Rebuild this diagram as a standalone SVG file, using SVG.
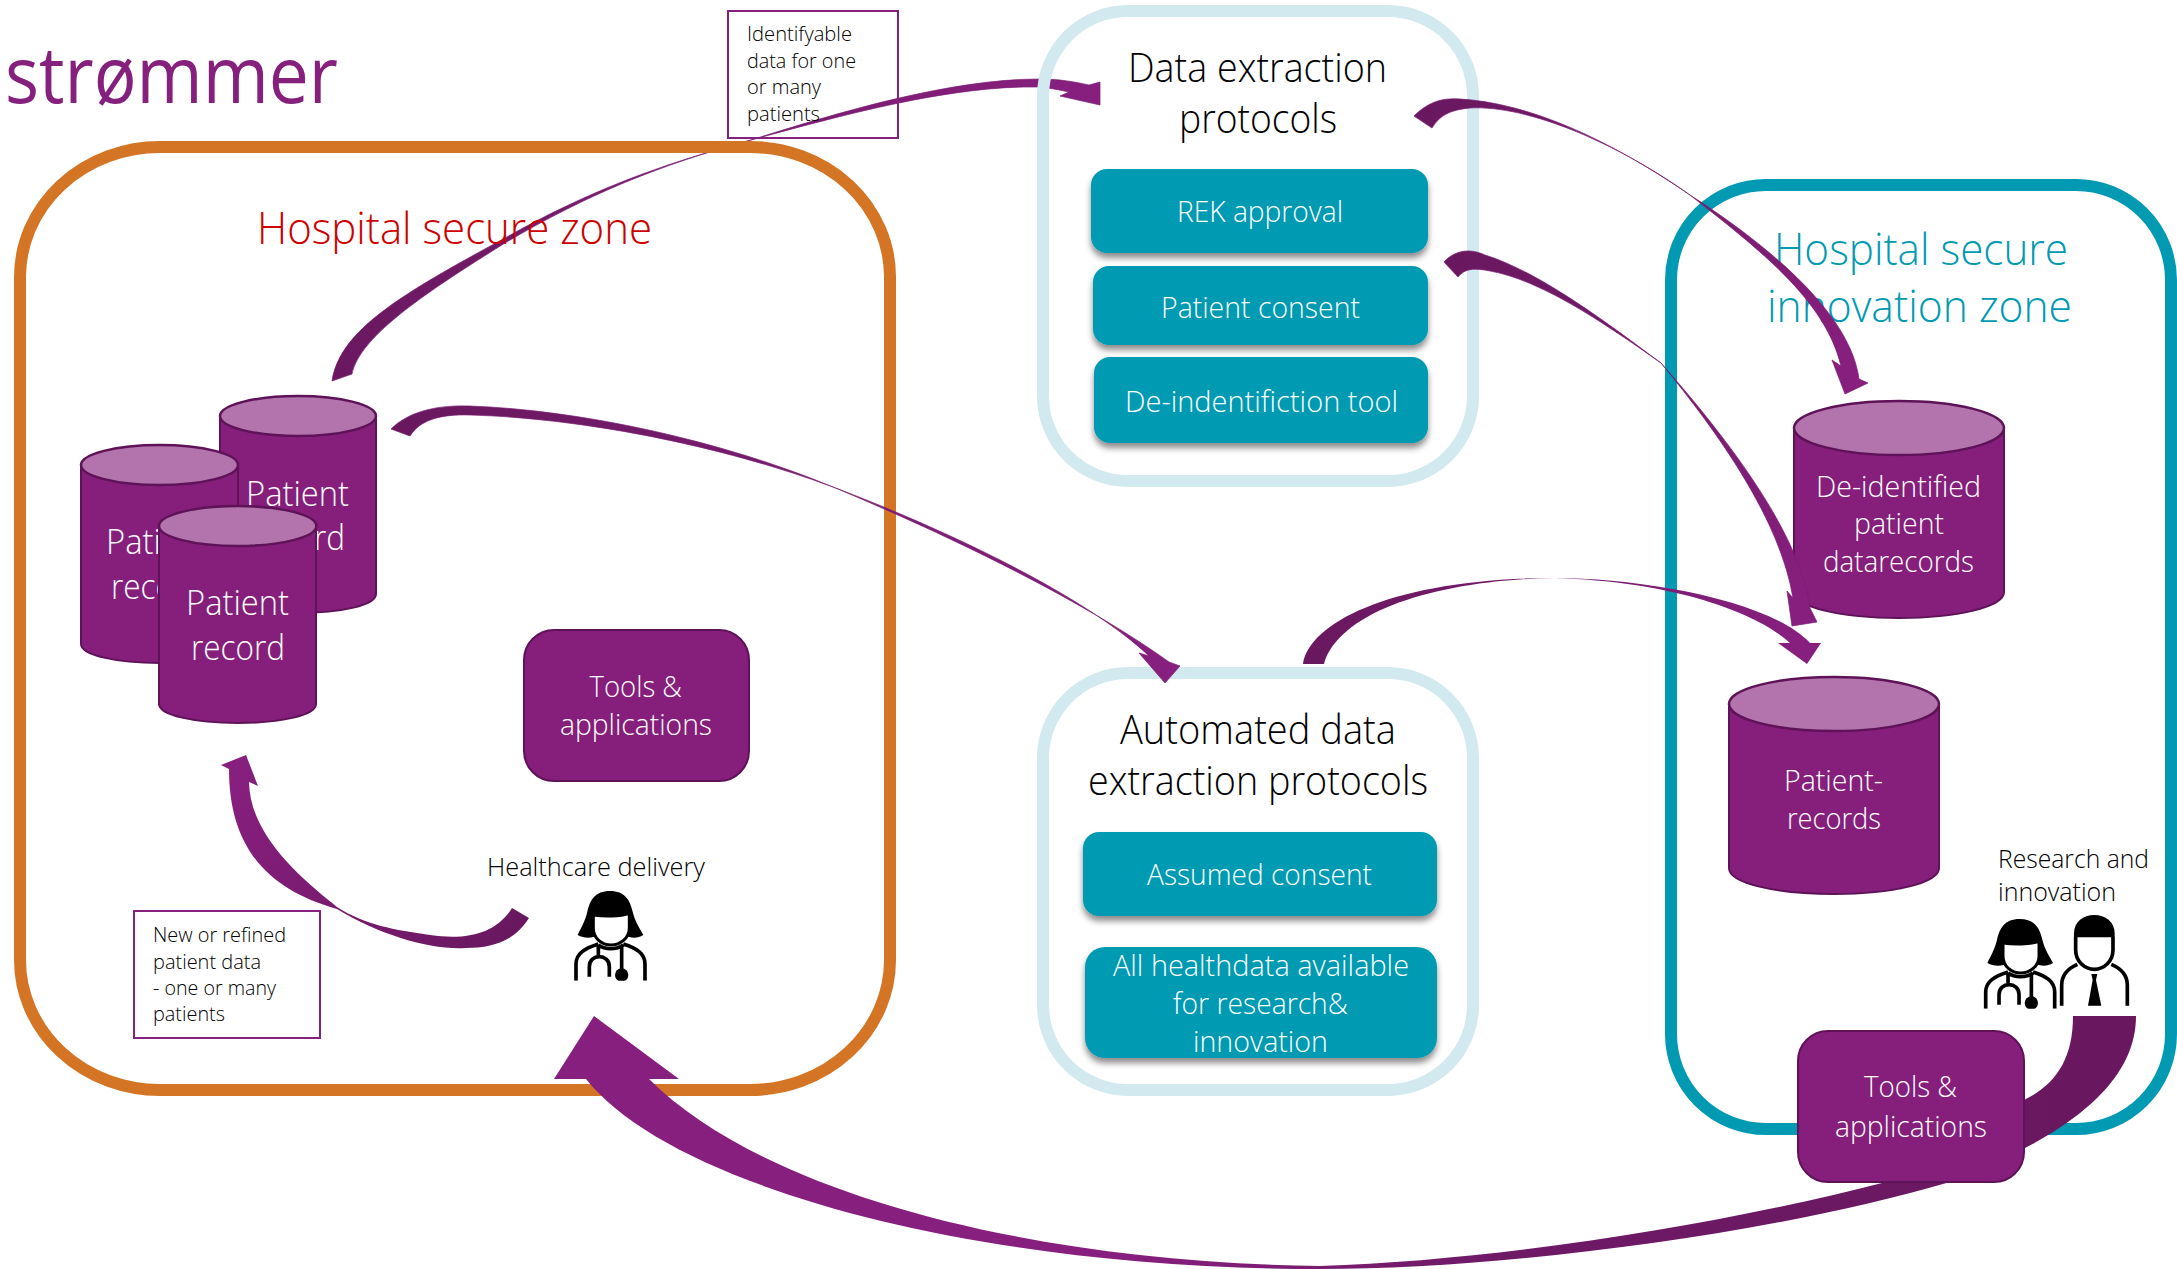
<svg xmlns="http://www.w3.org/2000/svg" xmlns:xlink="http://www.w3.org/1999/xlink" width="2177" height="1269" viewBox="0 0 2177 1269">
<style>
text{font-family:"Open Sans","Noto Sans","Liberation Sans",sans-serif;font-weight:300}
.zone{fill:none;stroke-width:12}
.pz{stroke:#D2E9F0}
.teal{fill:#029AB3;filter:url(#sh)}
.w{fill:#fff}
.k{fill:#000}
.cb{fill:#851F7B;stroke:#5E1257;stroke-width:2}
.ct{fill:#B374AD;stroke:#5E1257;stroke-width:2.500}
.tool{fill:#851F7B;stroke:#5E1257;stroke-width:2}
.note{fill:none;stroke:#85207C;stroke-width:2}
.s30{font-size:30px}.s34{font-size:34px}.s26{font-size:26px}.s21{font-size:21px}.s40{font-size:40px}.s44{font-size:44px}
.ic{fill:none;stroke:#000;stroke-width:11}
.hair{stroke:#7A1C72;stroke-width:.7}
</style>
<defs>
<filter id="sh" x="-5%" y="-10%" width="110%" height="130%"><feDropShadow dx="0" dy="5" stdDeviation="3" flood-color="#000" flood-opacity=".45"/></filter>
<linearGradient id="g1" gradientUnits="userSpaceOnUse" x1="332" y1="381" x2="1100" y2="90"><stop offset="0" stop-color="#69185F"/><stop offset="1" stop-color="#871F7E"/></linearGradient>
<linearGradient id="g2" gradientUnits="userSpaceOnUse" x1="400" y1="430" x2="1165" y2="683"><stop offset="0" stop-color="#69185F"/><stop offset="1" stop-color="#871F7E"/></linearGradient>
<linearGradient id="g3" gradientUnits="userSpaceOnUse" x1="1420" y1="120" x2="1845" y2="394"><stop offset="0" stop-color="#69185F"/><stop offset="1" stop-color="#871F7E"/></linearGradient>
<linearGradient id="g4" gradientUnits="userSpaceOnUse" x1="1450" y1="265" x2="1800" y2="626"><stop offset="0" stop-color="#69185F"/><stop offset="1" stop-color="#871F7E"/></linearGradient>
<linearGradient id="g5" gradientUnits="userSpaceOnUse" x1="1310" y1="664" x2="1807" y2="664"><stop offset="0" stop-color="#69185F"/><stop offset="1" stop-color="#871F7E"/></linearGradient>
<linearGradient id="g6" gradientUnits="userSpaceOnUse" x1="520" y1="920" x2="240" y2="760"><stop offset="0" stop-color="#69185F"/><stop offset="1" stop-color="#871F7E"/></linearGradient>
<linearGradient id="g7" gradientUnits="userSpaceOnUse" x1="2100" y1="1100" x2="1100" y2="1200"><stop offset="0" stop-color="#69185F"/><stop offset=".6" stop-color="#6E1966"/><stop offset="1" stop-color="#871F7E"/></linearGradient>
<clipPath id="icl"><rect x="120" y="80" width="250" height="282"/></clipPath>
<g id="doctor" clip-path="url(#icl)">
<path class="k" d="M240,93C195,93 180,120 172,155C165,185 152,205 143,225C165,238 190,232 205,228L285,228C300,232 320,238 340,225C330,205 315,185 308,155C300,120 285,93 240,93Z"/>
<path class="w" stroke="#000" stroke-width="9" d="M190,165C220,170 270,170 298,160V205C298,235 270,255 243,255C215,255 190,235 190,205Z"/>
<path class="ic" d="M138,362V312C138,280 165,265 205,252M345,362V312C345,280 320,265 280,252M205,255C225,270 260,270 280,255M275,258V335M205,258V285M178,350V320C178,280 238,280 238,320V350"/>
<circle class="k" cx="275" cy="345" r="20"/>
</g>
<g id="man">
<path class="k" d="M342,112V100C342,65 370,45 403,45C436,45 464,65 464,100V112Z"/>
<path class="ic" d="M347,110V150C347,185 375,208 403,208C431,208 459,185 459,150V110M305,317V255C305,225 325,205 352,193M502,317V255C502,225 482,205 454,193"/>
<path class="k" d="M394,222H412L408,240L424,317H384L398,240Z"/>
</g>
</defs>

<g id="connectors-behind">
<path id="arrow-records-to-extraction" class="hair" fill="url(#g1)" d="M332,381C340,330 400,295 505,238C590,190 660,165 751,140C840,112 950,79 1040,79C1060,79 1075,82 1089,85L1100,82L1100,105L1060,96L1069,92C1060,90 1050,88 1040,87C950,85 840,116 751,140C660,165 590,193 505,243C430,290 360,335 352,374Z"/>
</g>

<g id="zone-hospital">
<rect class="zone" stroke="#D47525" x="20" y="147" width="870" height="943" rx="140" ry="130"/>
<text x="257" y="244" class="s44" fill="#CC0000" textLength="395" lengthAdjust="spacingAndGlyphs">Hospital secure zone</text>
</g>
<g id="zone-extraction">
<rect class="zone pz" x="1043" y="11" width="430" height="470" rx="85" ry="85"/>
<text x="1128" y="82" class="s40" textLength="259" lengthAdjust="spacingAndGlyphs">Data extraction</text>
<text x="1179" y="133" class="s40" textLength="158" lengthAdjust="spacingAndGlyphs">protocols</text>
</g>
<g id="zone-automated">
<rect class="zone pz" x="1043" y="673" width="430" height="417" rx="85" ry="85"/>
<text x="1120" y="744" class="s40" textLength="276" lengthAdjust="spacingAndGlyphs">Automated data</text>
<text x="1088" y="795" class="s40" textLength="340" lengthAdjust="spacingAndGlyphs">extraction protocols</text>
</g>
<g id="zone-innovation">
<rect class="zone" stroke="#029AB3" x="1671" y="185" width="500" height="944" rx="95" ry="95"/>
<text x="1774" y="265" class="s44" fill="#029AB3" textLength="294" lengthAdjust="spacingAndGlyphs">Hospital secure</text>
<text x="1767" y="322" class="s44" fill="#029AB3" textLength="305" lengthAdjust="spacingAndGlyphs">innovation zone</text>
</g>

<g id="logo"><text x="5" y="103" fill="#85207C" style="font-weight:500;font-size:78px" textLength="333" lengthAdjust="spacingAndGlyphs">strømmer</text></g>

<g id="note-identifiable">
<rect class="note" x="728" y="11" width="170" height="127"/>
<text x="747" y="41" class="s21" textLength="105" lengthAdjust="spacingAndGlyphs">Identifyable</text>
<text x="747" y="68" class="s21" textLength="109" lengthAdjust="spacingAndGlyphs">data for one</text>
<text x="747" y="94" class="s21" textLength="74" lengthAdjust="spacingAndGlyphs">or many</text>
<text x="747" y="121" class="s21" textLength="73" lengthAdjust="spacingAndGlyphs">patients</text>
</g>
<g id="note-new">
<rect class="note" x="134" y="911" width="186" height="127"/>
<text x="153" y="942" class="s21" textLength="133" lengthAdjust="spacingAndGlyphs">New or refined</text>
<text x="153" y="968.500" class="s21" textLength="108" lengthAdjust="spacingAndGlyphs">patient data</text>
<text x="153" y="994.600" class="s21" textLength="123" lengthAdjust="spacingAndGlyphs">- one or many</text>
<text x="153" y="1021" class="s21" textLength="72" lengthAdjust="spacingAndGlyphs">patients</text>
</g>

<g id="box-rek"><rect class="teal" x="1091" y="169" width="337" height="84" rx="16"/><text class="w s30" x="1177" y="222" textLength="166" lengthAdjust="spacingAndGlyphs">REK approval</text></g>
<g id="box-consent"><rect class="teal" x="1093" y="266" width="335" height="79" rx="16"/><text class="w s30" x="1161" y="317.500" textLength="199" lengthAdjust="spacingAndGlyphs">Patient consent</text></g>
<g id="box-deid"><rect class="teal" x="1094" y="357" width="334" height="86" rx="16"/><text class="w s30" x="1125" y="411.500" textLength="273" lengthAdjust="spacingAndGlyphs">De-indentifiction tool</text></g>
<g id="box-assumed"><rect class="teal" x="1083" y="832" width="354" height="84" rx="16"/><text class="w s30" x="1147" y="885" textLength="225" lengthAdjust="spacingAndGlyphs">Assumed consent</text></g>
<g id="box-all"><rect class="teal" x="1085" y="947" width="352" height="111" rx="20"/>
<text class="w s30" x="1113" y="976" textLength="296" lengthAdjust="spacingAndGlyphs">All healthdata available</text>
<text class="w s30" x="1173" y="1014" textLength="175" lengthAdjust="spacingAndGlyphs">for research&amp;</text>
<text class="w s30" x="1193" y="1052" textLength="135" lengthAdjust="spacingAndGlyphs">innovation</text></g>

<g id="cyl-back">
<path class="cb" d="M220,416V594C220,605 254,613 298,613C342,613 376,605 376,594V416Z"/><ellipse class="ct" cx="298" cy="416" rx="78" ry="20"/>
<text class="w s34" x="246" y="506" textLength="103" lengthAdjust="spacingAndGlyphs">Patient</text>
<text class="w s34" x="251" y="550" textLength="94" lengthAdjust="spacingAndGlyphs">record</text>
</g>
<g id="cyl-left">
<path class="cb" d="M81,465V644C81,655 116,663 160,663C204,663 238,655 238,644V465Z"/><ellipse class="ct" cx="159.500" cy="465" rx="78.500" ry="20"/>
<text class="w s34" x="106" y="554" textLength="103" lengthAdjust="spacingAndGlyphs">Patient</text>
<text class="w s34" x="111" y="599" textLength="94" lengthAdjust="spacingAndGlyphs">record</text>
</g>
<g id="cyl-front">
<path class="cb" d="M159,526V704C159,715 194,723 238,723C282,723 316,715 316,704V526Z"/><ellipse class="ct" cx="237.700" cy="526" rx="78.700" ry="20"/>
<text class="w s34" x="186" y="615" textLength="103" lengthAdjust="spacingAndGlyphs">Patient</text>
<text class="w s34" x="191" y="660" textLength="94" lengthAdjust="spacingAndGlyphs">record</text>
</g>
<g id="cyl-deid">
<path class="cb" d="M1794,428V592C1794,607 1841,618 1899,618C1957,618 2004,607 2004,592V428Z"/><ellipse class="ct" cx="1899" cy="428" rx="105" ry="27"/>
<text class="w s30" x="1816" y="497" textLength="165" lengthAdjust="spacingAndGlyphs">De-identified</text>
<text class="w s30" x="1854" y="534" textLength="90" lengthAdjust="spacingAndGlyphs">patient</text>
<text class="w s30" x="1823" y="571.600" textLength="151" lengthAdjust="spacingAndGlyphs">datarecords</text>
</g>
<g id="cyl-patient">
<path class="cb" d="M1729,704V868C1729,883 1775,894 1834,894C1893,894 1939,883 1939,868V704Z"/><ellipse class="ct" cx="1834" cy="704" rx="105" ry="27"/>
<text class="w s30" x="1784" y="791" textLength="99" lengthAdjust="spacingAndGlyphs">Patient-</text>
<text class="w s30" x="1787" y="829" textLength="94" lengthAdjust="spacingAndGlyphs">records</text>
</g>
<g id="tools-left">
<rect class="tool" x="524" y="630" width="225" height="151" rx="30"/>
<text class="w s30" x="589.500" y="696.500" textLength="92.500" lengthAdjust="spacingAndGlyphs">Tools &amp;</text>
<text class="w s30" x="560" y="735" textLength="152" lengthAdjust="spacingAndGlyphs">applications</text>
</g>
<g id="healthcare-delivery">
<text class="s26" x="487" y="876" textLength="218" lengthAdjust="spacingAndGlyphs" fill="#000">Healthcare delivery</text>
<use xlink:href="#doctor" href="#doctor" transform="translate(530,860) scale(.3333)"/>
</g>
<g id="research">
<text class="s26" x="1998" y="868" textLength="151" lengthAdjust="spacingAndGlyphs">Research and</text>
<text class="s26" x="1998" y="901" textLength="118" lengthAdjust="spacingAndGlyphs">innovation</text>
<use xlink:href="#doctor" href="#doctor" transform="translate(1939.700,888) scale(.3333)"/>
<use xlink:href="#man" href="#man" transform="translate(1960,900) scale(.3333)"/>
</g>

<g id="connectors">
<path id="arrow-records-to-automated" class="hair" fill="url(#g2)" d="M391,429C410,410 440,405 470,406C580,410 720,440 833,487C960,540 1090,605 1169,662L1180,666L1165,683L1139,653L1149,656C1090,600 960,535 833,487C720,445 580,418 470,415C440,414 420,420 410,436Z"/>
<path id="arrow-extraction-to-deid" class="hair" fill="url(#g3)" d="M1414,116C1430,100 1445,98 1460,99C1530,103 1610,140 1690,195C1760,240 1850,310 1859,379L1868,383L1845,394L1832,360L1841,366C1825,300 1760,250 1690,195C1620,145 1530,105 1470,108C1450,110 1440,115 1432,128Z"/>
<path id="arrow-consent-to-records" class="hair" fill="url(#g4)" d="M1444,262C1455,250 1470,248 1485,255C1540,272 1610,325 1661,363C1720,430 1800,530 1810,608L1817,622L1792,626L1787,591L1793,598C1780,520 1720,435 1661,363C1600,320 1540,280 1490,271C1475,268 1465,268 1458,277Z"/>
<path id="arrow-automated-to-records" fill="url(#g5)" d="M1303,664C1310,620 1400,578 1555,578C1640,578 1770,600 1810,643L1821,643L1807,664L1778,643L1790,643C1760,615 1680,582 1555,578C1440,580 1340,610 1324,664Z"/>
<path id="arrow-doctor-to-records" fill="url(#g6)" d="M512,908C495,935 465,940 430,935C395,930 365,925 337,907C290,870 250,830 249,782L258,786L246,755L221,765L229,769C229,850 270,890 337,909C380,935 430,950 465,948C495,948 515,940 529,918Z"/>
<path id="arrow-research-to-healthcare" fill="url(#g7)" d="M649,1079L679,1079L594,1016L554,1079L586,1079C670,1185 970,1269 1320,1269C1500,1269 1770,1235 1950,1182C2030,1150 2136,1100 2136,1016L2073,1016C2073,1060 2055,1085 2024,1100C1980,1130 1950,1150 1886,1182C1720,1225 1500,1260 1320,1266C1020,1262 760,1190 649,1079Z"/>
</g>

<g id="tools-right">
<rect class="tool" x="1798" y="1031" width="226" height="151" rx="30"/>
<text class="w s30" x="1864" y="1097" textLength="93" lengthAdjust="spacingAndGlyphs">Tools &amp;</text>
<text class="w s30" x="1835" y="1137" textLength="152" lengthAdjust="spacingAndGlyphs">applications</text>
</g>
</svg>
